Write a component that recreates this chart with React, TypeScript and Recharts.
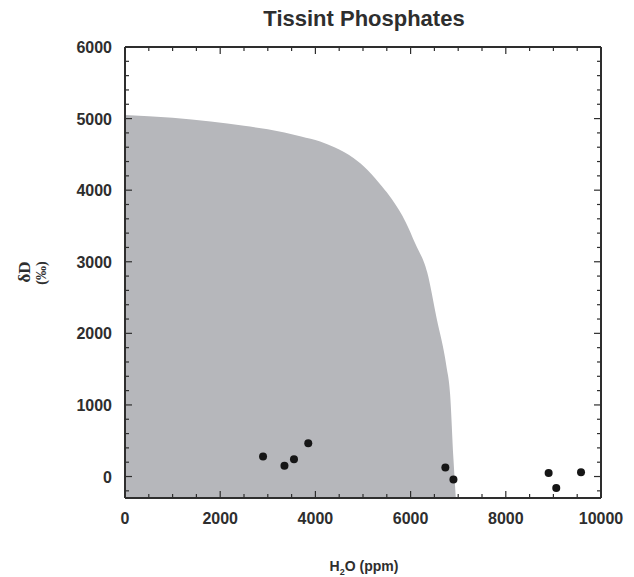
import React from "react";
import { ComposedChart, Area, Scatter, XAxis, YAxis } from "recharts";

// upper envelope of the shaded field (H2O ppm, dD permil)
const curveH2O = [0, 1000, 1800, 2500, 3000, 3700, 4100, 4400, 4800, 5100, 5400, 5600, 5900, 6100, 6350, 6550, 6750, 6830, 6900, 6950];
const curveDD = [5050, 5010, 4960, 4900, 4850, 4750, 4680, 4600, 4450, 4280, 4050, 3880, 3550, 3250, 2850, 2200, 1550, 1150, 250, -300];

// measured phosphates
const ptH2O = [2900, 3350, 3550, 3850, 6730, 6900, 8900, 9060, 9580];
const ptDD = [280, 150, 240, 465, 125, -40, 50, -160, 60];

const xTicks = [0, 500, 1000, 1500, 2000, 2500, 3000, 3500, 4000, 4500, 5000, 5500, 6000, 6500, 7000, 7500, 8000, 8500, 9000, 9500, 10000];
const xMajor = [0, 2000, 4000, 6000, 8000, 10000];
const yTicks = [-200, 0, 200, 400, 600, 800, 1000, 1200, 1400, 1600, 1800, 2000, 2200, 2400, 2600, 2800, 3000, 3200, 3400, 3600, 3800, 4000, 4200, 4400, 4600, 4800, 5000, 5200, 5400, 5600, 5800, 6000];
const yMajor = [0, 1000, 2000, 3000, 4000, 5000, 6000];

const curve = curveH2O.map((x, i) => ({ x, y: curveDD[i] }));
const points = ptH2O.map((x, i) => ({ x, y: ptDD[i] }));

const INK = "#2e2e2e";
const FONT = "'Liberation Sans', Arial, sans-serif";

const BottomTick = (p: any) => {
  const major = xMajor.includes(p.payload.value);
  return (
    <g>
      <line x1={p.x} x2={p.x} y1={p.y} y2={p.y - (major ? 7 : 4)} stroke={INK} strokeWidth={1.2} />
      {major && (
        <text x={p.x} y={p.y + 26} textAnchor="middle" fontFamily={FONT} fontWeight="bold" fontSize={16} fill={INK}>
          {p.payload.value}
        </text>
      )}
    </g>
  );
};

const TopTick = (p: any) => {
  const major = xMajor.includes(p.payload.value);
  return <line x1={p.x} x2={p.x} y1={p.y} y2={p.y + (major ? 7 : 4)} stroke={INK} strokeWidth={1.2} />;
};

const LeftTick = (p: any) => {
  const major = yMajor.includes(p.payload.value);
  return (
    <g>
      <line x1={p.x} x2={p.x + (major ? 7 : 4)} y1={p.y} y2={p.y} stroke={INK} strokeWidth={1.2} />
      {major && (
        <text x={p.x - 13} y={p.y + 6} textAnchor="end" fontFamily={FONT} fontWeight="bold" fontSize={16} fill={INK}>
          {p.payload.value}
        </text>
      )}
    </g>
  );
};

const RightTick = (p: any) => {
  const major = yMajor.includes(p.payload.value);
  return <line x1={p.x} x2={p.x - (major ? 7 : 4)} y1={p.y} y2={p.y} stroke={INK} strokeWidth={1.2} />;
};

const Dot = (p: any) => <circle cx={p.cx} cy={p.cy} r={4} fill="#161616" />;

export default function App() {
  const axisLine = { stroke: INK, strokeWidth: 2 };
  return (
    <div style={{ position: "absolute", left: 0, top: 0, width: 634, height: 577, background: "#fff" }}>
      <ComposedChart
        width={634}
        height={577}
        data={curve}
        margin={{ top: 46, right: 32, bottom: 49, left: 65 }}
      >
        <XAxis
          xAxisId="b"
          dataKey="x"
          type="number"
          domain={[0, 10000]}
          ticks={xTicks}
          interval={0}
          allowDataOverflow
          height={30}
          tickSize={0}
          tickMargin={0}
          tickLine={false}
          axisLine={axisLine}
          tick={<BottomTick />}
        />
        <XAxis
          xAxisId="t"
          orientation="top"
          dataKey="x"
          type="number"
          domain={[0, 10000]}
          ticks={xTicks}
          interval={0}
          allowDataOverflow
          height={1}
          tickSize={0}
          tickMargin={0}
          tickLine={false}
          axisLine={axisLine}
          tick={<TopTick />}
        />
        <YAxis
          yAxisId="l"
          type="number"
          domain={[-300, 6000]}
          ticks={yTicks}
          interval={0}
          allowDataOverflow
          width={60}
          tickSize={0}
          tickMargin={0}
          tickLine={false}
          axisLine={axisLine}
          tick={<LeftTick />}
        />
        <YAxis
          yAxisId="r"
          orientation="right"
          type="number"
          domain={[-300, 6000]}
          ticks={yTicks}
          interval={0}
          allowDataOverflow
          width={1}
          tickSize={0}
          tickMargin={0}
          tickLine={false}
          axisLine={axisLine}
          tick={<RightTick />}
        />
        <Area
          xAxisId="b"
          yAxisId="l"
          type="monotone"
          dataKey="y"
          baseValue={-300}
          stroke="none"
          fill="#b6b7bb"
          fillOpacity={1}
          dot={false}
          activeDot={false}
          isAnimationActive={false}
        />
        <Scatter
          xAxisId="b"
          yAxisId="l"
          data={points}
          dataKey="y"
          shape={<Dot />}
          isAnimationActive={false}
        />
      </ComposedChart>
      <svg width={634} height={577} style={{ position: "absolute", left: 0, top: 0, pointerEvents: "none" }}>
        <text x={364} y={26} textAnchor="middle" fontFamily={FONT} fontWeight="bold" fontSize={22} fill={INK}>
          Tissint Phosphates
        </text>
        <text transform="translate(30,272) rotate(-90)" textAnchor="middle" fontFamily="'Liberation Serif', serif" fontWeight="bold" fontSize={17} fill={INK}>
          δD
        </text>
        <text transform="translate(46,273) rotate(-90)" textAnchor="middle" fontFamily="'Liberation Serif', serif" fontWeight="bold" fontSize={14} fill={INK}>
          (‰)
        </text>
        <text x={364} y={571} textAnchor="middle" fontFamily={FONT} fontWeight="bold" fontSize={14} fill={INK}>
          <tspan>H</tspan>
          <tspan fontSize={9} dy={4}>2</tspan>
          <tspan dy={-4}>O (ppm)</tspan>
        </text>
      </svg>
    </div>
  );
}
